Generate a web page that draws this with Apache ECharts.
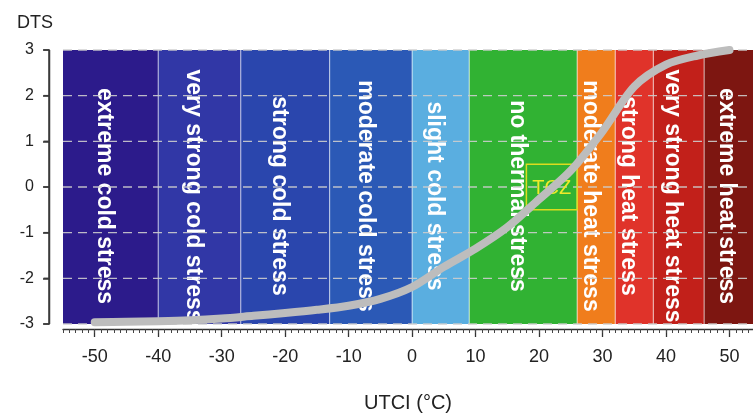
<!DOCTYPE html>
<html><head><meta charset="utf-8">
<script src="https://cdn.jsdelivr.net/npm/echarts@6/dist/echarts.min.js"></script>
<style>html,body{margin:0;padding:0;background:#fff;}#c{width:753px;height:418px;}</style>
</head><body><div id="c"></div>
<script>
const bandNames = ['extreme cold stress','very strong cold stress','strong cold stress','moderate cold stress','slight cold stress','no thermal stress','moderate heat stress','strong heat stress','very strong heat stress','extreme heat stress'];
const bandStart = [-55, -40, -27, -13, 0, 9, 26, 32, 38, 46];
const bandEnd   = [-40, -27, -13, 0, 9, 26, 32, 38, 46, 55];
const bandColors = ['#2c1b8b','#3137a6','#2a46ad','#2b59b6','#5aaee0','#31b233','#f07d1c','#e0332a','#c2201a','#7d1611'];
const curveUtci = [-50,-45,-40,-35,-30,-25,-20,-15,-10,-5,0,5,10,15,20,25,30,35,40,45,50];
const curveDts  = [-2.96,-2.95,-2.94,-2.92,-2.88,-2.82,-2.76,-2.69,-2.6,-2.45,-2.19,-1.75,-1.35,-0.88,-0.27,0.36,1.22,2.2,2.68,2.88,3.0];
const xTickLabels = [-50,-40,-30,-20,-10,0,10,20,30,40,50];
const yTickLabels = [-3,-2,-1,0,1,2,3];
const tczUtci = [18, 26];
const tczDts = [-0.5, 0.5];
const tczLabel = 'TCZ';

const FONT = '"Liberation Sans", Arial, Helvetica, sans-serif';
const X_MIN = -55, X_MAX = 53.7;
const Y_OFFSET = 14, Y_TICK = 6;
const minorTicks = [];
for (let v = -55; v <= 53; v++) minorTicks.push(v);

const chart = echarts.init(document.getElementById('c'));
chart.setOption({
  backgroundColor: '#ffffff',
  animation: false,
  grid: { left: 63, right: 0, top: 50, bottom: 88 },
  xAxis: [{
    type: 'value', min: X_MIN, max: X_MAX, position: 'bottom', offset: 5,
    name: 'UTCI (°C)', nameLocation: 'middle', nameGap: 64,
    nameTextStyle: { fontFamily: FONT, fontSize: 20, color: '#222' },
    axisLine: { show: true, onZero: false, lineStyle: { color: '#333333', width: 1.3 } },
    axisTick: { show: true, length: 8, customValues: xTickLabels, lineStyle: { color: '#333333', width: 1.3 } },
    axisLabel: { customValues: xTickLabels, margin: 19, fontFamily: FONT, fontSize: 18, color: '#222' },
    splitLine: { show: false }
  }, {
    type: 'value', min: X_MIN, max: X_MAX, position: 'bottom', offset: 5,
    axisLine: { show: false, onZero: false },
    axisTick: { show: true, length: 4, customValues: minorTicks, lineStyle: { color: '#444444', width: 1 } },
    axisLabel: { show: false },
    splitLine: { show: false }
  }],
  yAxis: {
    type: 'value', min: -3, max: 3, interval: 1, offset: Y_OFFSET, position: 'left',
    name: 'DTS', nameLocation: 'end', nameGap: 18,
    nameTextStyle: { fontFamily: FONT, fontSize: 18, color: '#222', align: 'right', padding: [0, -4, 0, 0] },
    axisLine: { show: true, onZero: false, lineStyle: { color: '#3a3a3a', width: 1.5 } },
    axisTick: { show: true, length: Y_TICK, lineStyle: { color: '#3a3a3a', width: 1.5 } },
    axisLabel: { margin: 15, fontFamily: FONT, fontSize: 16, color: '#222',
      formatter: v => yTickLabels.indexOf(v) >= 0 ? String(v) : '' },
    splitLine: { show: false }
  },
  series: [{
    type: 'custom', z: 1, clip: true, silent: true,
    data: bandNames.map((n, i) => [bandStart[i], bandEnd[i], i]),
    encode: { x: [0, 1] },
    renderItem: function (params, api) {
      const i = api.value(2);
      const p0 = api.coord([api.value(0), 3]);
      const p1 = api.coord([api.value(1), -3]);
      const cs = params.coordSys;
      const children = [{
        type: 'rect', shape: { x: p0[0], y: p0[1], width: p1[0] - p0[0], height: p1[1] - p0[1] },
        style: { fill: bandColors[i] }
      }];
      if (i > 0) children.push({
        type: 'line', shape: { x1: p0[0], y1: p0[1], x2: p0[0], y2: p1[1] },
        style: { stroke: 'rgba(255,255,255,0.55)', lineWidth: 1.2 }
      });
      children.push({
        type: 'text', x: (p0[0] + p1[0]) / 2 - 6, y: cs.y + cs.height / 2 + 9, rotation: -Math.PI / 2,
        style: { text: bandNames[i], fill: '#ffffff', fontFamily: FONT, fontSize: 23, fontWeight: 'bold', align: 'center', verticalAlign: 'middle' }
      });
      return { type: 'group', children: children };
    }
  }, {
    type: 'custom', z: 3, silent: true, clip: false,
    data: yTickLabels.map(v => [v]),
    encode: { y: 0 },
    renderItem: function (params, api) {
      const v = api.value(0);
      const a = api.coord([X_MIN, v]);
      const b = api.coord([X_MAX, v]);
      const ax = Math.round(params.coordSys.x - Y_OFFSET) + 0.5;
      const children = [{
        type: 'line', shape: { x1: a[0], y1: a[1], x2: b[0], y2: b[1] },
        style: { stroke: 'rgba(205,205,205,0.9)', lineWidth: 1.3, lineDash: [9, 6] }
      }, {
        type: 'line', shape: { x1: ax - Y_TICK, y1: a[1], x2: ax, y2: a[1] },
        style: { stroke: '#3a3a3a', lineWidth: 1.5 }
      }];
      if (params.dataIndex === 0) {
        const top = api.coord([X_MIN, yTickLabels[yTickLabels.length - 1]]);
        const bot = api.coord([X_MIN, yTickLabels[0]]);
        children.push({
          type: 'line', shape: { x1: ax, y1: top[1], x2: ax, y2: bot[1] },
          style: { stroke: '#3a3a3a', lineWidth: 1.5 }
        });
      }
      return { type: 'group', children: children };
    }
  }, {
    type: 'custom', z: 6, silent: true,
    data: [[tczUtci[0], tczUtci[1], tczDts[0], tczDts[1]]],
    encode: { x: [0, 1], y: [2, 3] },
    renderItem: function (params, api) {
      const a = api.coord([api.value(0), api.value(3)]);
      const b = api.coord([api.value(1), api.value(2)]);
      return { type: 'group', children: [{
        type: 'rect', shape: { x: a[0], y: a[1], width: b[0] - a[0], height: b[1] - a[1] },
        style: { fill: 'none', stroke: '#dcdc1e', lineWidth: 1.5 }
      }, {
        type: 'text', x: (a[0] + b[0]) / 2, y: (a[1] + b[1]) / 2 + 1,
        style: { text: tczLabel, fill: '#eeea2a', fontFamily: FONT, fontSize: 20, align: 'center', verticalAlign: 'middle' }
      }]};
    }
  }, {
    type: 'line', z: 10, clip: false, smooth: 0.3, showSymbol: false, symbol: 'none', silent: true,
    data: curveUtci.map((u, i) => [u, curveDts[i]]),
    lineStyle: { color: '#bdbdbd', width: 8, cap: 'round', join: 'round' }
  }]
});
</script></body></html>
